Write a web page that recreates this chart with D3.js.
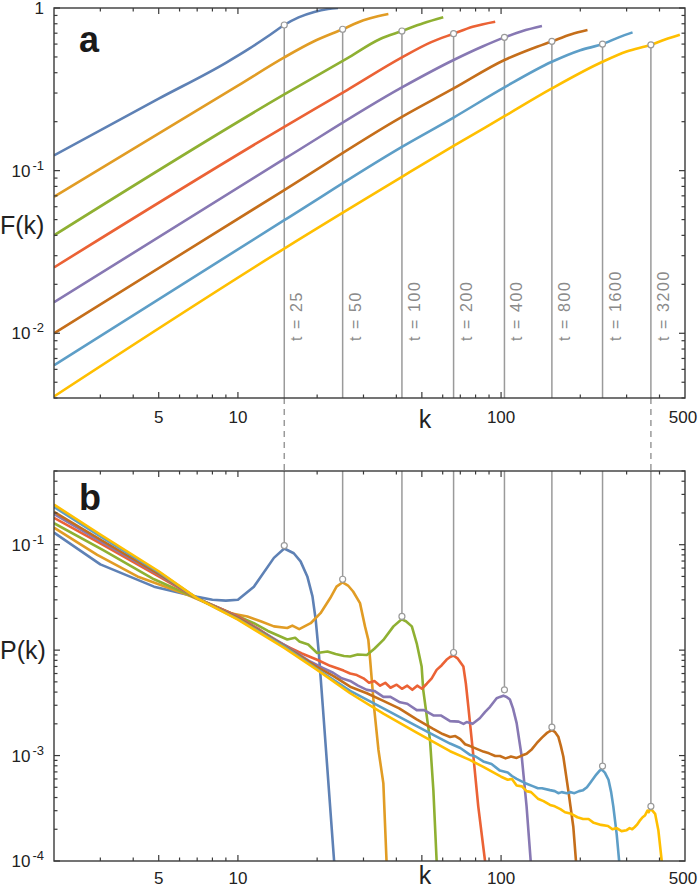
<!DOCTYPE html>
<html>
<head>
<meta charset="utf-8">
<script src="https://cdn.jsdelivr.net/npm/d3@7"></script>
<style>
  body { margin: 0; background: #fff; }
  svg { display: block; }
  text { font-family: "Liberation Sans", Arial, sans-serif; }
</style>
</head>
<body>
<svg id="chart" width="700" height="891"></svg>
<script>
// times and colours
const times = ["t = 25", "t = 50", "t = 100", "t = 200", "t = 400", "t = 800", "t = 1600", "t = 3200"];
const colors = ["#5E81B5", "#E19C24", "#8FB032", "#EB6235", "#8778B3", "#C56E1A", "#5D9EC7", "#FFBF00"];

// peak positions (k) and the marker values in each panel
const peakK = [15, 25, 42, 66, 103, 156, 243, 371];
const peakF = [0.786, 0.74, 0.722, 0.695, 0.66, 0.624, 0.60, 0.594];
const peakP = [0.098, 0.047, 0.0209, 0.0095, 0.0042, 0.00186, 0.000795, 0.00033];

// tick labels
const xTickLabels = [5, 10, 100, 500];
const yTopTickLabels = [[1, "1", ""], [0.1, "10", "-1"], [0.01, "10", "-2"]];
const yBotTickLabels = [[0.1, "10", "-1"], [0.001, "10", "-3"], [0.0001, "10", "-4"]];

// panel a : F(k)
const F_t25 = [[2,0.124],[5,0.277],[9,0.46],[11,0.56],[13,0.67],[15,0.786],[17,0.875],[19.5,0.945],[22,0.985],[24,1.0]];
const F_t50 = [[2,0.069],[10,0.333],[15,0.497],[19.3,0.62],[25,0.74],[30,0.84],[34,0.89],[37.3,0.918]];
const F_t100 = [[2,0.040],[15,0.294],[26,0.49],[34.7,0.645],[42,0.722],[50.6,0.805],[60.3,0.876]];
const F_t200 = [[2,0.0254],[15,0.186],[26,0.313],[42,0.497],[54,0.615],[66,0.695],[78,0.767],[95,0.824]];
const F_t400 = [[2,0.0155],[15,0.118],[42,0.325],[66,0.479],[85,0.58],[103,0.66],[120,0.72],[143,0.775]];
const F_t800 = [[2,0.010],[15,0.076],[42,0.214],[66,0.32],[103,0.479],[130,0.56],[156,0.624],[185,0.69],[213,0.732]];
const F_t1600 = [[2,0.00636],[15,0.0496],[42,0.14],[66,0.212],[103,0.325],[156,0.467],[200,0.55],[243,0.60],[280,0.66],[316,0.708]];
const F_t3200 = [[2,0.00409],[15,0.0332],[42,0.0916],[66,0.142],[103,0.216],[156,0.32],[243,0.467],[300,0.54],[371,0.594],[420,0.64],[478,0.685]];

// panel b : P(k)
const P_t25 = [[2,0.13],[3,0.065],[4.8,0.040],[7,0.032],[8,0.030],[9,0.0295],[10,0.030],[11.5,0.040],[13.7,0.075],[15,0.092],[16.3,0.083],[17.3,0.0695],[18.35,0.050],[19.2,0.0323],[19.75,0.0194],[20.3,0.0093],[21,0.003],[21.7,0.00098],[23.2,0.0001],[24,0.00005]];
const P_t50 = [[2,0.145],[2.92,0.080],[4.15,0.050],[6.42,0.0335],[9.38,0.0224],[10.86,0.0208],[12.2,0.0188],[13.7,0.0168],[15.4,0.0162],[16.1,0.0171],[17.1,0.0158],[18.9,0.018],[20.6,0.0224],[22.4,0.031],[23.7,0.040],[25,0.044],[26.2,0.041],[27.4,0.036],[29.1,0.0279],[30.4,0.0168],[31.3,0.0125],[31.8,0.0081],[32.9,0.0029],[34.2,0.00113],[35.7,0.000545],[36.7,0.0001],[37.2,0.00005]];
const P_t100 = [[2,0.16],[3.1,0.088],[4.8,0.047],[7,0.031],[10,0.021],[11.5,0.018],[13,0.0152],[15.4,0.0126],[16.5,0.0131],[17.1,0.0121],[18.5,0.0113],[20,0.0094],[21.9,0.0097],[23.5,0.0092],[25.3,0.0088],[26.7,0.0087],[28.5,0.0091],[30.9,0.009],[33,0.0103],[35.7,0.0125],[39,0.0168],[41.9,0.0196],[43.5,0.0188],[45.8,0.0168],[47.8,0.0116],[49.9,0.007],[50.6,0.0042],[53.7,0.0014],[55.3,0.00047],[56.9,0.0001],[57.5,0.00005]];
const P_t200 = [[2,0.18],[3,0.103],[5,0.05],[7,0.031],[10,0.021],[12,0.0158],[14,0.0122],[15.8,0.0105],[17.5,0.0093],[20,0.0081],[22.4,0.0071],[24,0.0067],[25.2,0.0064],[26.7,0.006],[28.3,0.0058],[30,0.0054],[31.5,0.0049],[33,0.0051],[34.7,0.0046],[36.3,0.0049],[38,0.0044],[40.1,0.0047],[42,0.0043],[44,0.0046],[46,0.0042],[48,0.0046],[50,0.0043],[52.2,0.0048],[54.5,0.0054],[56.9,0.0065],[59.5,0.0072],[62,0.0081],[64,0.0086],[65.9,0.0089],[68.5,0.0083],[71.9,0.007],[73.5,0.0048],[75.1,0.0029],[78.5,0.00098],[81.9,0.00033],[86.9,0.0001],[88,0.00005]];
const P_t400 = [[2,0.195],[3,0.108],[5,0.052],[7,0.031],[10,0.0205],[15,0.0112],[18.8,0.0078],[21,0.0068],[23,0.0061],[24.8,0.0054],[26.7,0.0051],[28.6,0.0046],[30.9,0.0042],[33,0.0041],[35.7,0.0036],[38,0.0036],[41.3,0.0032],[44,0.0031],[47.8,0.0027],[51,0.0027],[55.3,0.0024],[59,0.0024],[64,0.00212],[69,0.0021],[72,0.0020],[74,0.00208],[78,0.0020],[83,0.00226],[87,0.0026],[90.8,0.0029],[96.2,0.0035],[99,0.0036],[102,0.0037],[105,0.0036],[108,0.0034],[111,0.0028],[114.6,0.00203],[119.8,0.00098],[125,0.00033],[129.6,0.0001],[131,0.00005]];
const P_t800 = [[2,0.205],[3,0.112],[5,0.053],[7,0.031],[10,0.0202],[15,0.011],[20,0.0069],[23,0.0057],[26.7,0.0045],[30.9,0.0039],[35.7,0.0033],[41,0.0028],[47.8,0.0022],[55,0.0018],[60,0.0016],[64,0.0015],[67,0.00153],[70,0.00143],[73,0.00128],[76.2,0.00123],[80,0.00117],[85.6,0.00109],[90,0.00105],[95,0.00099],[99,0.00099],[104,0.00094],[109,0.00098],[114.6,0.00095],[120,0.001],[125,0.00104],[131,0.00115],[136.6,0.00131],[143,0.00148],[149,0.00163],[153,0.0017],[156,0.00174],[160,0.00168],[165,0.00151],[168.5,0.00125],[172.4,0.00098],[180,0.00047],[188.2,0.00021],[192.6,0.0001],[195,0.00005]];
const P_t1600 = [[2,0.228],[3,0.12],[5,0.055],[7,0.031],[10,0.0197],[15,0.0108],[20,0.0066],[26.7,0.0041],[35.7,0.0028],[47.8,0.0019],[55,0.00158],[64,0.0013],[70,0.00118],[76,0.00102],[80,0.00098],[85.6,0.00088],[92,0.00083],[99,0.00072],[106,0.00069],[110,0.00064],[114.6,0.0006],[123,0.00055],[132.6,0.00051],[138,0.00049],[143,0.00049],[153.5,0.00047],[160,0.00046],[165,0.00044],[170,0.00045],[177.6,0.00044],[184,0.00045],[190,0.00044],[198,0.00046],[205,0.00047],[212,0.0005],[218,0.00055],[230,0.00066],[237,0.00072],[241,0.00074],[248,0.00069],[256,0.00059],[262,0.00045],[267,0.00033],[275,0.00018],[281,0.0001],[284,0.00005]];
const P_t3200 = [[2,0.24],[3,0.125],[5,0.056],[7,0.031],[10,0.0195],[15,0.0105],[20,0.0065],[26.7,0.0039],[35.7,0.0025],[47.8,0.00165],[64,0.0011],[76,0.00091],[85.6,0.00078],[100,0.00063],[106,0.00059],[110,0.0006],[114.6,0.00052],[120,0.00051],[125,0.00046],[130,0.00045],[138,0.00039],[145,0.00037],[153.5,0.00034],[160,0.00033],[168,0.00031],[175,0.00029],[185,0.00028],[195,0.00026],[205,0.00025],[215,0.00025],[225,0.00023],[240,0.00022],[255,0.000215],[265,0.0002],[275,0.000205],[287,0.000192],[300,0.000196],[308,0.000205],[315,0.0002],[322,0.00021],[328,0.00022],[336,0.00024],[345,0.00026],[352,0.00027],[360,0.0003],[364,0.00029],[368,0.00031],[376,0.0003],[385,0.00028],[396,0.000196],[407.9,0.0001],[412,0.00005]];

const topSeries = [F_t25, F_t50, F_t100, F_t200, F_t400, F_t800, F_t1600, F_t3200];
const botSeries = [P_t25, P_t50, P_t100, P_t200, P_t400, P_t800, P_t1600, P_t3200];

const svg = d3.select("#chart");
const left = 54, right = 685;
const topA = 8, botA = 398, topB = 471, botB = 861;

const x = d3.scaleLog().domain([2, 500]).range([left, right]);
const yTop = d3.scaleLog().domain([0.004, 1]).range([botA, topA]);
const yBot = d3.scaleLog().domain([1e-4, 0.5]).range([botB, topB]);

const defs = svg.append("defs");
defs.append("clipPath").attr("id", "clipA").append("rect")
  .attr("x", left).attr("y", topA).attr("width", right - left).attr("height", botA - topA);
defs.append("clipPath").attr("id", "clipB").append("rect")
  .attr("x", left).attr("y", topB).attr("width", right - left).attr("height", botB - topB);

const gray = "#9a9a9a";

// vertical marker lines
peakK.forEach((k, i) => {
  svg.append("line")
    .attr("x1", x(k)).attr("x2", x(k))
    .attr("y1", yTop(peakF[i])).attr("y2", botA)
    .attr("stroke", gray).attr("stroke-width", 1.5);
  svg.append("line")
    .attr("x1", x(k)).attr("x2", x(k))
    .attr("y1", topB).attr("y2", yBot(peakP[i]))
    .attr("stroke", gray).attr("stroke-width", 1.5);
  if (i === 0 || i === peakK.length - 1) {
    svg.append("line")
      .attr("x1", x(k)).attr("x2", x(k))
      .attr("y1", botA).attr("y2", topB)
      .attr("stroke", gray).attr("stroke-width", 1.5)
      .attr("stroke-dasharray", "6,5");
  }
  svg.append("text")
    .attr("transform", `translate(${x(k) + 18},341) rotate(-90)`)
    .attr("fill", "#8a8a8a")
    .attr("font-size", 16)
    .attr("letter-spacing", 1.6)
    .text(times[i]);
});

// curves
const lineTop = d3.line().x(d => x(d[0])).y(d => yTop(d[1])).curve(d3.curveMonotoneX);
const lineBot = d3.line().x(d => x(d[0])).y(d => yBot(d[1]));

const gA = svg.append("g").attr("clip-path", "url(#clipA)");
topSeries.forEach((s, i) => {
  gA.append("path").attr("d", lineTop(s))
    .attr("fill", "none").attr("stroke", colors[i])
    .attr("stroke-width", 2.6).attr("stroke-linejoin", "round");
});
const gB = svg.append("g").attr("clip-path", "url(#clipB)");
botSeries.forEach((s, i) => {
  gB.append("path").attr("d", lineBot(s))
    .attr("fill", "none").attr("stroke", colors[i])
    .attr("stroke-width", 2.6).attr("stroke-linejoin", "round");
});

// markers
peakK.forEach((k, i) => {
  svg.append("circle").attr("cx", x(k)).attr("cy", yTop(peakF[i])).attr("r", 3)
    .attr("fill", "#fff").attr("stroke", gray).attr("stroke-width", 1.2);
  svg.append("circle").attr("cx", x(k)).attr("cy", yBot(peakP[i])).attr("r", 3)
    .attr("fill", "#fff").attr("stroke", gray).attr("stroke-width", 1.2);
});

// frames and ticks
const axisColor = "#3a3a3a";
const xMajor = [5, 10, 50, 100];
const xMinor = [3, 4, 6, 7, 8, 9, 20, 30, 40, 60, 70, 80, 90, 200, 300, 400];

function frame(y, y0, y1, decades) {
  svg.append("rect").attr("x", left).attr("y", y0)
    .attr("width", right - left).attr("height", y1 - y0)
    .attr("fill", "none").attr("stroke", axisColor).attr("stroke-width", 1.4);
  const g = svg.append("g").attr("stroke", axisColor).attr("stroke-width", 1.2);
  xMajor.concat(xMinor).forEach(v => {
    const len = xMajor.includes(v) ? 6 : 3.5;
    g.append("line").attr("x1", x(v)).attr("x2", x(v)).attr("y1", y1).attr("y2", y1 - len);
    g.append("line").attr("x1", x(v)).attr("x2", x(v)).attr("y1", y0).attr("y2", y0 + len);
  });
  const [lo, hi] = y.domain();
  decades.forEach(d => {
    for (let m = 1; m <= 9; m++) {
      const v = m * Math.pow(10, d);
      if (v < lo * 0.999 || v > hi * 1.001) continue;
      const len = m === 1 ? 6 : 3.5;
      g.append("line").attr("x1", left).attr("x2", left + len).attr("y1", y(v)).attr("y2", y(v));
      g.append("line").attr("x1", right).attr("x2", right - len).attr("y1", y(v)).attr("y2", y(v));
    }
  });
}
frame(yTop, topA, botA, [-3, -2, -1, 0]);
frame(yBot, topB, botB, [-4, -3, -2, -1]);

// x tick labels
[[423, 428], [884, 884]].forEach(([base, kBase]) => {
  xTickLabels.forEach(v => {
    svg.append("text").attr("x", v === 500 ? x(v) - 2 : x(v)).attr("y", base)
      .attr("text-anchor", "middle").attr("font-size", 17).attr("fill", "#222")
      .text(v);
  });
  svg.append("text").attr("x", 425).attr("y", kBase)
    .attr("text-anchor", "middle").attr("font-size", 25).attr("fill", "#222")
    .text("k");
});

// y tick labels
function yLabels(y, list) {
  list.forEach(([v, base, sup]) => {
    const t = svg.append("text").attr("x", 44).attr("y", y(v) + 6)
      .attr("text-anchor", "end").attr("font-size", 17).attr("fill", "#222");
    t.append("tspan").text(base);
    if (sup) t.append("tspan").attr("dy", -7).attr("dx", 2).attr("font-size", 13).text(sup);
  });
}
yLabels(yTop, yTopTickLabels);
yLabels(yBot, yBotTickLabels);

// axis titles
svg.append("text").attr("x", 0).attr("y", 234).attr("font-size", 25).attr("fill", "#222").text("F(k)");
svg.append("text").attr("x", 0).attr("y", 659).attr("font-size", 25).attr("fill", "#222").text("P(k)");

// panel letters
svg.append("text").attr("x", 79).attr("y", 52).attr("font-size", 36).attr("font-weight", "bold").attr("fill", "#1a1a1a").text("a");
svg.append("text").attr("x", 79).attr("y", 510).attr("font-size", 36).attr("font-weight", "bold").attr("fill", "#1a1a1a").text("b");
</script>
</body>
</html>
